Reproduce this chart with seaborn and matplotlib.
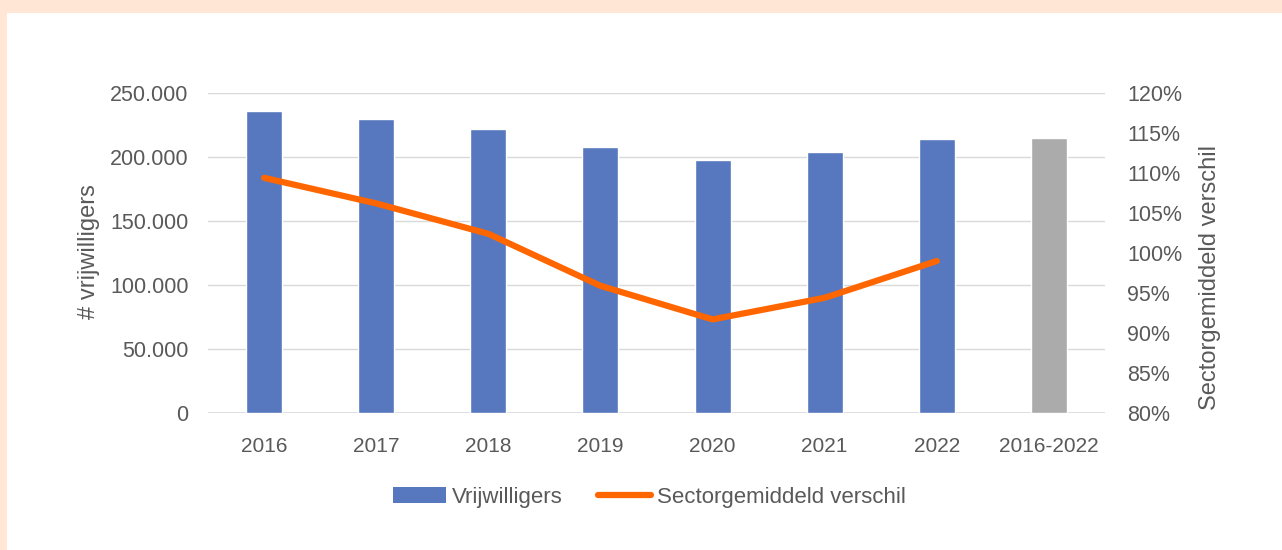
import numpy as np
import pandas as pd
import matplotlib.pyplot as plt
import matplotlib.ticker as mticker
from matplotlib.patches import Patch
from matplotlib.lines import Line2D
import seaborn as sns

# --- data ---
categories = ["2016", "2017", "2018", "2019", "2020", "2021", "2022", "2016-2022"]
volunteers = [236000, 229500, 221500, 207800, 197700, 203900, 214000, 214800]
line_years = ["2016", "2017", "2018", "2019", "2020", "2021", "2022"]
sector_diff = [109.4, 106.2, 102.4, 95.9, 91.7, 94.4, 99.0]  # percent

blue = "#5778BE"
grey = "#ABABAB"
orange = "#FF6600"
text_col = "#595959"
grid_col = "#D9D9D9"

sns.set_theme(style="white")
plt.rcParams["font.family"] = ["Liberation Sans", "DejaVu Sans"]

fig = plt.figure(figsize=(12.82, 5.5), dpi=100)
fig.patch.set_facecolor("#FFE6D5")
# white panel
fig.add_artist(plt.Rectangle((7 / 1282, 0), 1, 1 - 13 / 550, transform=fig.transFigure,
                             facecolor="white", edgecolor="none", zorder=0))

ax = fig.add_axes([208 / 1282, 1 - 413 / 550, (1105 - 208) / 1282, 320 / 550])
ax.set_facecolor("none")

df = pd.DataFrame({"cat": categories, "val": volunteers,
                   "kind": ["jaar"] * 7 + ["totaal"]})
sns.barplot(data=df, x="cat", y="val", hue="kind", palette={"jaar": blue, "totaal": grey},
            width=0.32, dodge=False, legend=False, ax=ax, zorder=3, saturation=1)

ax.set_ylim(0, 250000)
ax.set_yticks(np.arange(0, 250001, 50000))
ax.yaxis.set_major_formatter(mticker.FuncFormatter(lambda v, p: f"{int(v):,}".replace(",", ".")))
ax.grid(axis="y", color=grid_col, linewidth=1)
ax.set_axisbelow(True)
for s in ax.spines.values():
    s.set_visible(False)
ax.axhline(0, color=grid_col, linewidth=1.2, zorder=2)
ax.tick_params(axis="x", length=0, labelsize=15, colors=text_col, pad=17)
ax.tick_params(axis="y", length=0, labelsize=15.5, colors=text_col, pad=14)
ax.set_xlabel("")
ax.set_ylabel("# vrijwilligers", fontsize=17, color=text_col)
ax.yaxis.set_label_coords(-0.120, 0.503)

ax2 = ax.twinx()
ldf = pd.DataFrame({"pos": np.arange(len(line_years)), "pct": sector_diff})
sns.lineplot(data=ldf, x="pos", y="pct", color=orange, linewidth=4.5,
             solid_capstyle="round", solid_joinstyle="round", ax=ax2, zorder=4)
ax2.set_ylim(80, 120)
ax2.set_yticks(np.arange(80, 121, 5))
ax2.yaxis.set_major_formatter(mticker.FuncFormatter(lambda v, p: f"{int(v)}%"))
for s in ax2.spines.values():
    s.set_visible(False)
ax2.tick_params(axis="y", length=0, labelsize=15.5, colors=text_col, pad=16)
ax2.set_xlabel("")
ax2.set_ylabel("Sectorgemiddeld verschil", fontsize=17, color=text_col)
ax2.yaxis.set_label_coords(1.1048, 0.422)
ax.set_xlim(-0.5, len(categories) - 0.5)

handles = [Patch(facecolor=blue, edgecolor="none"),
           Line2D([0], [0], color=orange, linewidth=4.5, solid_capstyle="round")]
fig.legend(handles, ["Vrijwilligers", "Sectorgemiddeld verschil"], loc="center",
           bbox_to_anchor=(649 / 1282, 1 - 497 / 550), ncol=2, frameon=False,
           fontsize=16, labelcolor=text_col, handlelength=2.4, handletextpad=0.25,
           columnspacing=1.6)

fig.savefig("out.png", dpi=100, facecolor=fig.get_facecolor())
